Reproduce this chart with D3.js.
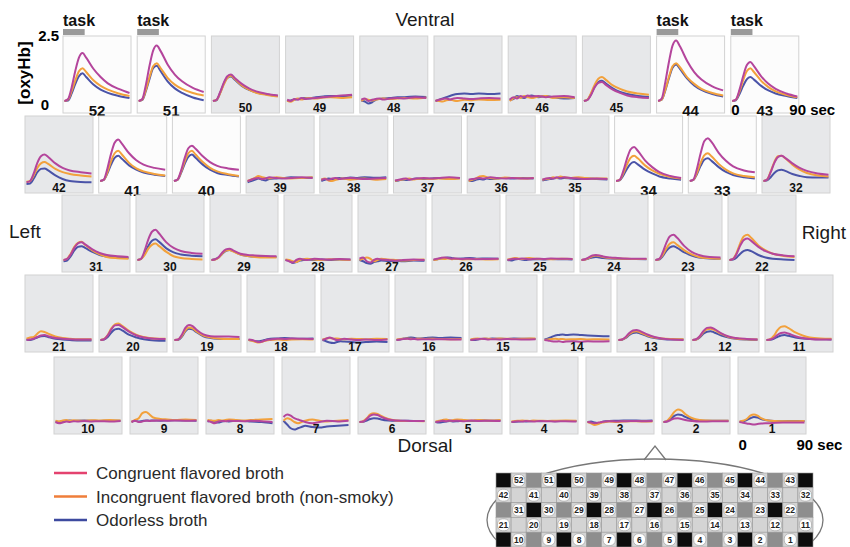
<!DOCTYPE html>
<html>
<head>
<meta charset="utf-8">
<script src="https://cdn.jsdelivr.net/npm/d3@7"></script>
<style>
  body { margin: 0; background: #fff; }
  svg { display: block; font-family: "Liberation Sans", Arial, sans-serif; }
</style>
</head>
<body>
<svg id="chart" width="850" height="547"></svg>
<script>
// Temps (sec) des points lus sur chaque courbe
const times = [0, 5, 10, 15, 20, 25, 30, 40, 50, 60, 75, 90];

// [oxyHb] par canal : index 0 = canal 1 ... index 51 = canal 52
const congruent = [
  [0.0, -0.03, -0.06, -0.08, -0.1, -0.08, -0.06, -0.05, -0.03, -0.02, -0.02, -0.02], // 1
  [0, 0.02, 0.08, 0.14, 0.15, 0.12, 0.08, 0.04, 0.02, 0.02, 0.03, 0.03], // 2
  [0.0, -0.02, -0.05, -0.02, 0.0, 0.02, 0.03, 0.02, 0.03, 0.04, 0.03, 0.04], // 3
  [0.0, 0.02, 0.03, 0.02, 0.04, 0.03, 0.02, 0.04, 0.03, 0.02, 0.03, 0.02], // 4
  [0.0, 0.02, 0.05, 0.03, 0.06, 0.04, 0.05, 0.03, 0.06, 0.04, 0.05, 0.04], // 5
  [0, 0.02, 0.12, 0.25, 0.3, 0.28, 0.2, 0.1, 0.06, 0.05, 0.04, 0.04], // 6
  [0.2, 0.3, 0.25, 0.15, 0.1, 0.05, 0.0, -0.05, 0.0, 0.05, 0.02, 0.05], // 7
  [0.05, 0.0, -0.05, 0.02, 0.04, 0.03, 0.05, 0.04, 0.03, 0.05, 0.03, 0.0], // 8
  [0.0, 0.05, 0.0, 0.02, 0.05, 0.04, 0.05, 0.06, 0.05, 0.06, 0.05, 0.06], // 9
  [0.0, -0.05, -0.02, 0.02, 0.0, 0.03, 0.02, 0.04, 0.02, 0.03, 0.02, 0.04], // 10
  [0, 0.02, 0.08, 0.2, 0.28, 0.3, 0.26, 0.15, 0.08, 0.04, 0.02, 0.02], // 11
  [0, 0.03, 0.15, 0.35, 0.48, 0.5, 0.44, 0.26, 0.14, 0.08, 0.04, 0.02], // 12
  [0, 0.02, 0.12, 0.28, 0.38, 0.4, 0.35, 0.22, 0.12, 0.06, 0.02, 0.0], // 13
  [0.0, -0.02, -0.05, -0.06, -0.05, -0.08, -0.06, -0.05, -0.07, -0.05, -0.06, -0.05], // 14
  [0.0, 0.02, 0.03, 0.05, 0.04, 0.02, 0.03, 0.02, 0.04, 0.03, 0.02, 0.03], // 15
  [0.0, 0.02, 0.04, 0.05, 0.03, 0.04, 0.02, 0.03, 0.02, 0.03, 0.02, 0.02], // 16
  [0.0, 0.05, 0.1, 0.05, 0.0, 0.02, 0.05, 0.02, 0.0, 0.02, 0.0, 0.02], // 17
  [0.02, 0.0, -0.05, -0.08, -0.05, 0.0, 0.02, 0.05, 0.04, 0.06, 0.05, 0.04], // 18
  [0, 0.02, 0.2, 0.48, 0.6, 0.55, 0.42, 0.22, 0.15, 0.14, 0.14, 0.12], // 19
  [0, 0.03, 0.18, 0.42, 0.58, 0.6, 0.52, 0.32, 0.18, 0.1, 0.05, 0.04], // 20
  [0.0, 0.02, 0.05, 0.12, 0.18, 0.2, 0.15, 0.08, 0.05, 0.03, 0.02, 0.02], // 21
  [0, 0.04, 0.25, 0.58, 0.8, 0.85, 0.76, 0.52, 0.35, 0.25, 0.18, 0.15], // 22
  [0, 0.04, 0.3, 0.68, 0.94, 1.0, 0.88, 0.55, 0.32, 0.2, 0.12, 0.1], // 23
  [0.0, 0.03, 0.1, 0.18, 0.2, 0.18, 0.14, 0.1, 0.08, 0.06, 0.05, 0.05], // 24
  [0.0, 0.03, 0.05, 0.04, 0.06, 0.05, 0.03, 0.05, 0.04, 0.06, 0.05, 0.04], // 25
  [0.02, 0.05, 0.08, 0.1, 0.08, 0.05, 0.06, 0.04, 0.05, 0.03, 0.04, 0.05], // 26
  [0.05, 0.1, -0.05, -0.1, 0.0, 0.05, 0.02, 0.0, -0.03, 0.0, 0.02, 0.0], // 27
  [0.0, -0.05, -0.1, 0.0, 0.05, 0.02, 0.0, 0.05, 0.03, 0.02, 0.04, 0.02], // 28
  [0, 0.03, 0.12, 0.3, 0.42, 0.45, 0.38, 0.25, 0.2, 0.18, 0.16, 0.15], // 29
  [0, 0.05, 0.38, 0.82, 1.12, 1.2, 1.05, 0.7, 0.48, 0.36, 0.28, 0.25], // 30
  [0, 0.04, 0.22, 0.48, 0.66, 0.7, 0.62, 0.42, 0.28, 0.2, 0.15, 0.12], // 31
  [0, 0.06, 0.35, 0.72, 0.95, 1.0, 0.92, 0.7, 0.52, 0.4, 0.3, 0.25], // 32
  [0, 0.06, 0.5, 1.1, 1.58, 1.7, 1.55, 1.12, 0.8, 0.58, 0.42, 0.35], // 33
  [0, 0.05, 0.4, 0.88, 1.25, 1.35, 1.2, 0.82, 0.55, 0.35, 0.2, 0.12], // 34
  [0.05, 0.1, 0.12, 0.1, 0.15, 0.12, 0.15, 0.12, 0.1, 0.08, 0.1, 0.08], // 35
  [0.05, 0.08, 0.1, 0.12, 0.1, 0.12, 0.15, 0.12, 0.1, 0.12, 0.1, 0.12], // 36
  [0.02, 0.05, 0.08, 0.1, 0.05, 0.08, 0.1, 0.12, 0.1, 0.12, 0.15, 0.12], // 37
  [0.05, 0.08, 0.05, 0.1, 0.12, 0.08, 0.1, 0.12, 0.1, 0.08, 0.1, 0.12], // 38
  [0.0, 0.05, 0.1, 0.12, 0.08, 0.1, 0.15, 0.12, 0.1, 0.12, 0.15, 0.12], // 39
  [0, 0.06, 0.42, 0.92, 1.3, 1.4, 1.28, 0.98, 0.75, 0.6, 0.5, 0.45], // 40
  [0, 0.06, 0.5, 1.08, 1.52, 1.65, 1.48, 1.1, 0.82, 0.65, 0.52, 0.45], // 41
  [-0.05, 0.0, 0.3, 0.72, 0.98, 1.05, 0.95, 0.7, 0.52, 0.42, 0.35, 0.3], // 42
  [0, 0.06, 0.45, 0.98, 1.42, 1.55, 1.38, 0.98, 0.68, 0.48, 0.3, 0.18], // 43
  [0, 0.1, 0.75, 1.55, 2.2, 2.4, 2.18, 1.6, 1.15, 0.85, 0.58, 0.42], // 44
  [0, 0.05, 0.25, 0.55, 0.72, 0.75, 0.65, 0.45, 0.32, 0.22, 0.15, 0.12], // 45
  [0.05, 0.15, 0.1, 0.2, 0.15, 0.22, 0.18, 0.2, 0.15, 0.18, 0.2, 0.15], // 46
  [0.0, 0.05, 0.08, 0.1, 0.06, 0.1, 0.12, 0.1, 0.08, 0.1, 0.12, 0.1], // 47
  [0.05, 0.1, 0.0, 0.05, 0.08, 0.1, 0.06, 0.1, 0.12, 0.1, 0.15, 0.12], // 48
  [0.05, 0.0, 0.08, 0.05, 0.12, 0.08, 0.1, 0.12, 0.15, 0.18, 0.22, 0.25], // 49
  [0, 0.05, 0.35, 0.72, 0.98, 1.05, 0.92, 0.68, 0.5, 0.38, 0.28, 0.22], // 50
  [0, 0.08, 0.65, 1.4, 2.0, 2.2, 2.0, 1.45, 1.05, 0.78, 0.52, 0.36], // 51
  [0, 0.08, 0.55, 1.2, 1.72, 1.9, 1.72, 1.28, 0.95, 0.7, 0.48, 0.32]  // 52
];

const incongruent = [
  [0.02, 0.05, 0.12, 0.25, 0.3, 0.25, 0.15, 0.06, 0.04, 0.03, 0.03, 0.04], // 1
  [0, 0.05, 0.2, 0.4, 0.5, 0.45, 0.32, 0.15, 0.08, 0.06, 0.05, 0.05], // 2
  [0.0, -0.05, -0.12, -0.08, -0.02, 0.0, 0.02, 0.0, 0.02, 0.03, 0.02, 0.02], // 3
  [0.02, 0.04, 0.05, 0.06, 0.05, 0.04, 0.06, 0.05, 0.04, 0.05, 0.06, 0.05], // 4
  [0.02, 0.05, 0.08, 0.1, 0.06, 0.08, 0.1, 0.08, 0.06, 0.08, 0.06, 0.08], // 5
  [0, 0.03, 0.15, 0.3, 0.35, 0.32, 0.24, 0.12, 0.06, 0.04, 0.04, 0.03], // 6
  [0.05, 0.15, 0.1, 0.0, -0.05, 0.0, 0.05, 0.1, 0.05, 0.02, 0.05, 0.08], // 7
  [0.08, 0.06, 0.05, 0.08, 0.06, 0.08, 0.1, 0.08, 0.06, 0.08, 0.1, 0.12], // 8
  [0.0, 0.08, 0.15, 0.35, 0.4, 0.3, 0.18, 0.12, 0.1, 0.08, 0.1, 0.08], // 9
  [0.05, 0.02, 0.06, 0.08, 0.05, 0.07, 0.06, 0.05, 0.07, 0.06, 0.08, 0.06], // 10
  [0, 0.03, 0.16, 0.38, 0.52, 0.55, 0.48, 0.3, 0.18, 0.1, 0.06, 0.05], // 11
  [0, 0.02, 0.13, 0.32, 0.43, 0.45, 0.4, 0.24, 0.12, 0.06, 0.03, 0.02], // 12
  [0, 0.02, 0.1, 0.24, 0.33, 0.35, 0.3, 0.18, 0.1, 0.06, 0.04, 0.03], // 13
  [0.0, 0.02, 0.04, 0.05, 0.03, 0.04, 0.02, 0.03, 0.04, 0.02, 0.03, 0.02], // 14
  [0.02, 0.05, 0.06, 0.04, 0.06, 0.05, 0.04, 0.06, 0.05, 0.04, 0.05, 0.06], // 15
  [0.02, 0.04, 0.05, 0.06, 0.05, 0.04, 0.05, 0.04, 0.05, 0.04, 0.03, 0.04], // 16
  [0.02, 0.06, 0.08, 0.05, 0.06, 0.04, 0.03, 0.05, 0.04, 0.03, 0.05, 0.04], // 17
  [0.0, -0.03, -0.08, -0.1, -0.06, -0.02, 0.0, 0.02, 0.0, 0.02, 0.03, 0.02], // 18
  [0, 0.02, 0.15, 0.38, 0.5, 0.46, 0.35, 0.18, 0.1, 0.06, 0.04, 0.04], // 19
  [0, 0.04, 0.2, 0.46, 0.62, 0.65, 0.56, 0.35, 0.2, 0.12, 0.06, 0.05], // 20
  [0.05, 0.1, 0.12, 0.25, 0.35, 0.32, 0.25, 0.14, 0.08, 0.05, 0.03, 0.03], // 21
  [0, 0.05, 0.3, 0.68, 0.94, 1.0, 0.88, 0.58, 0.38, 0.25, 0.16, 0.12], // 22
  [0, 0.03, 0.2, 0.46, 0.65, 0.7, 0.6, 0.38, 0.22, 0.12, 0.07, 0.05], // 23
  [0.0, 0.02, 0.08, 0.15, 0.18, 0.16, 0.12, 0.08, 0.06, 0.05, 0.04, 0.04], // 24
  [0.02, 0.05, 0.08, 0.06, 0.04, 0.06, 0.08, 0.05, 0.04, 0.03, 0.05, 0.04], // 25
  [0.0, 0.02, 0.05, 0.04, 0.06, 0.03, 0.05, 0.02, 0.03, 0.04, 0.02, 0.03], // 26
  [0.0, 0.05, 0.1, 0.05, -0.05, 0.0, 0.05, 0.02, 0.0, -0.02, 0.0, 0.02], // 27
  [0.02, 0.0, -0.05, -0.08, 0.0, 0.03, 0.05, 0.02, 0.0, 0.03, 0.02, 0.0], // 28
  [0, 0.02, 0.1, 0.26, 0.38, 0.4, 0.34, 0.22, 0.16, 0.12, 0.1, 0.1], // 29
  [0, 0.04, 0.2, 0.45, 0.6, 0.65, 0.55, 0.32, 0.15, 0.08, 0.04, 0.02], // 30
  [0, 0.05, 0.25, 0.52, 0.68, 0.72, 0.6, 0.38, 0.22, 0.12, 0.07, 0.05], // 31
  [0, 0.06, 0.38, 0.75, 0.98, 1.0, 0.9, 0.65, 0.45, 0.32, 0.22, 0.18], // 32
  [0, 0.05, 0.33, 0.72, 1.02, 1.1, 0.98, 0.68, 0.45, 0.3, 0.2, 0.15], // 33
  [0, 0.04, 0.3, 0.65, 0.92, 1.0, 0.9, 0.62, 0.42, 0.28, 0.16, 0.1], // 34
  [0.05, 0.08, 0.1, 0.15, 0.12, 0.18, 0.15, 0.12, 0.15, 0.12, 0.1, 0.1], // 35
  [0.0, 0.05, 0.1, 0.18, 0.2, 0.15, 0.12, 0.1, 0.14, 0.12, 0.1, 0.12], // 36
  [0.0, 0.04, 0.06, 0.08, 0.1, 0.06, 0.08, 0.1, 0.08, 0.1, 0.08, 0.1], // 37
  [0.05, 0.1, 0.02, 0.0, 0.05, 0.08, 0.1, 0.05, 0.08, 0.1, 0.05, 0.08], // 38
  [0.0, 0.06, 0.12, 0.2, 0.15, 0.12, 0.1, 0.15, 0.12, 0.1, 0.12, 0.15], // 39
  [0, 0.05, 0.36, 0.78, 1.1, 1.2, 1.05, 0.75, 0.52, 0.38, 0.27, 0.2], // 40
  [0, 0.05, 0.35, 0.78, 1.1, 1.2, 1.05, 0.72, 0.5, 0.38, 0.28, 0.22], // 41
  [-0.03, 0.0, 0.22, 0.52, 0.7, 0.75, 0.68, 0.48, 0.35, 0.28, 0.22, 0.18], // 42
  [0, 0.05, 0.38, 0.82, 1.18, 1.3, 1.15, 0.8, 0.55, 0.38, 0.24, 0.15], // 43
  [0, 0.06, 0.45, 0.95, 1.38, 1.5, 1.35, 0.95, 0.68, 0.48, 0.32, 0.22], // 44
  [0, 0.06, 0.32, 0.65, 0.88, 0.95, 0.85, 0.62, 0.48, 0.38, 0.3, 0.25], // 45
  [0.0, 0.1, 0.15, 0.12, 0.2, 0.15, 0.12, 0.18, 0.2, 0.12, 0.15, 0.12], // 46
  [0.02, 0.0, -0.02, 0.03, 0.05, 0.02, 0.0, 0.05, 0.03, 0.06, 0.04, 0.05], // 47
  [0.0, 0.08, 0.05, 0.02, 0.06, 0.08, 0.1, 0.08, 0.1, 0.12, 0.1, 0.14], // 48
  [0.02, -0.03, 0.05, 0.1, 0.06, 0.1, 0.12, 0.1, 0.14, 0.15, 0.12, 0.15], // 49
  [0, 0.04, 0.3, 0.65, 0.92, 1.0, 0.88, 0.62, 0.45, 0.33, 0.24, 0.18], // 50
  [0, 0.06, 0.45, 0.95, 1.38, 1.5, 1.32, 0.92, 0.65, 0.48, 0.32, 0.22], // 51
  [0, 0.06, 0.4, 0.82, 1.18, 1.3, 1.15, 0.82, 0.6, 0.45, 0.3, 0.2]  // 52
];

const odorless = [
  [0.0, 0.03, 0.08, 0.15, 0.2, 0.18, 0.12, 0.06, 0.04, 0.03, 0.04, 0.04], // 1
  [0, 0.03, 0.12, 0.24, 0.3, 0.28, 0.2, 0.1, 0.06, 0.05, 0.05, 0.05], // 2
  [0.0, 0.02, -0.02, -0.05, 0.0, 0.03, 0.04, 0.05, 0.06, 0.06, 0.05, 0.06], // 3
  [0.0, 0.01, 0.02, 0.03, 0.02, 0.03, 0.04, 0.03, 0.04, 0.03, 0.04, 0.04], // 4
  [0.0, -0.02, 0.0, 0.02, 0.04, 0.02, 0.03, 0.05, 0.04, 0.06, 0.05, 0.06], // 5
  [0, 0.01, 0.06, 0.12, 0.15, 0.14, 0.1, 0.06, 0.05, 0.05, 0.04, 0.04], // 6
  [0.05, -0.1, -0.25, -0.3, -0.25, -0.2, -0.15, -0.2, -0.22, -0.18, -0.15, -0.12], // 7
  [0.02, 0.05, 0.0, -0.02, 0.02, 0.04, 0.02, 0.05, 0.04, 0.02, 0.0, -0.05], // 8
  [0.0, 0.05, 0.02, 0.04, 0.06, 0.05, 0.06, 0.05, 0.06, 0.07, 0.06, 0.05], // 9
  [0.02, 0.0, 0.04, 0.05, 0.06, 0.04, 0.05, 0.06, 0.05, 0.04, 0.05, 0.05], // 10
  [0, 0.01, 0.05, 0.12, 0.18, 0.2, 0.17, 0.1, 0.06, 0.04, 0.03, 0.02], // 11
  [0, 0.02, 0.1, 0.25, 0.33, 0.35, 0.3, 0.18, 0.1, 0.05, 0.02, 0.01], // 12
  [0, 0.01, 0.08, 0.2, 0.28, 0.3, 0.26, 0.15, 0.08, 0.04, 0.02, 0.02], // 13
  [0.02, 0.06, 0.12, 0.18, 0.2, 0.22, 0.2, 0.22, 0.2, 0.18, 0.16, 0.15], // 14
  [0.0, 0.0, 0.02, 0.04, 0.05, 0.04, 0.06, 0.05, 0.04, 0.06, 0.05, 0.04], // 15
  [0.0, 0.02, 0.06, 0.08, 0.1, 0.08, 0.06, 0.08, 0.1, 0.08, 0.1, 0.08], // 16
  [0.0, -0.05, -0.1, -0.12, -0.08, -0.05, -0.06, -0.08, -0.1, -0.08, -0.06, -0.08], // 17
  [0.0, -0.02, -0.05, -0.05, -0.02, 0.02, 0.05, 0.06, 0.08, 0.06, 0.05, 0.06], // 18
  [0, 0.0, 0.12, 0.34, 0.45, 0.42, 0.32, 0.15, 0.08, 0.05, 0.04, 0.04], // 19
  [0, 0.02, 0.12, 0.3, 0.42, 0.45, 0.38, 0.2, 0.1, 0.03, -0.02, -0.03], // 20
  [0.02, 0.0, 0.04, 0.1, 0.15, 0.16, 0.12, 0.05, 0.02, 0.0, -0.02, -0.02], // 21
  [0, 0.02, 0.1, 0.25, 0.36, 0.4, 0.35, 0.2, 0.1, 0.05, 0.02, 0.0], // 22
  [0, 0.02, 0.15, 0.36, 0.5, 0.55, 0.48, 0.3, 0.18, 0.1, 0.06, 0.05], // 23
  [0.0, 0.02, 0.06, 0.1, 0.12, 0.1, 0.08, 0.06, 0.05, 0.04, 0.04, 0.03], // 24
  [0.0, -0.02, 0.02, 0.04, 0.02, 0.0, 0.02, 0.03, 0.02, 0.04, 0.03, 0.02], // 25
  [0.0, 0.03, 0.06, 0.08, 0.1, 0.08, 0.05, 0.06, 0.08, 0.05, 0.06, 0.05], // 26
  [0.0, -0.05, -0.12, -0.15, -0.08, -0.05, -0.02, -0.05, -0.03, -0.05, -0.02, -0.03], // 27
  [0.0, -0.03, -0.12, -0.08, -0.02, 0.0, 0.02, 0.0, 0.02, 0.0, 0.02, 0.01], // 28
  [0, 0.03, 0.1, 0.25, 0.36, 0.4, 0.35, 0.22, 0.16, 0.14, 0.14, 0.12], // 29
  [0, 0.04, 0.26, 0.56, 0.76, 0.82, 0.72, 0.46, 0.3, 0.22, 0.17, 0.15], // 30
  [-0.05, -0.02, 0.15, 0.38, 0.52, 0.55, 0.48, 0.32, 0.2, 0.14, 0.1, 0.08], // 31
  [0, 0.03, 0.15, 0.32, 0.42, 0.45, 0.4, 0.28, 0.2, 0.15, 0.14, 0.14], // 32
  [0, 0.04, 0.28, 0.6, 0.84, 0.9, 0.8, 0.55, 0.36, 0.24, 0.15, 0.1], // 33
  [0, 0.03, 0.22, 0.48, 0.68, 0.75, 0.66, 0.45, 0.3, 0.18, 0.1, 0.05], // 34
  [0.02, 0.05, 0.08, 0.1, 0.12, 0.1, 0.12, 0.1, 0.08, 0.1, 0.08, 0.06], // 35
  [0.02, 0.0, 0.05, 0.08, 0.06, 0.1, 0.08, 0.1, 0.12, 0.1, 0.12, 0.1], // 36
  [0.0, 0.02, 0.05, 0.04, 0.06, 0.08, 0.1, 0.08, 0.1, 0.12, 0.1, 0.12], // 37
  [0.0, 0.05, 0.1, 0.08, 0.1, 0.12, 0.1, 0.14, 0.12, 0.15, 0.13, 0.15], // 38
  [-0.05, 0.0, 0.05, 0.1, 0.05, 0.02, 0.08, 0.1, 0.12, 0.15, 0.12, 0.14], // 39
  [0, 0.04, 0.32, 0.68, 0.96, 1.05, 0.92, 0.65, 0.45, 0.32, 0.24, 0.18], // 40
  [0, 0.04, 0.3, 0.65, 0.92, 1.0, 0.88, 0.62, 0.45, 0.34, 0.25, 0.2], // 41
  [-0.12, -0.1, 0.1, 0.35, 0.48, 0.5, 0.42, 0.22, 0.08, 0.0, -0.04, -0.05], // 42
  [0, 0.03, 0.28, 0.6, 0.86, 0.95, 0.85, 0.6, 0.42, 0.3, 0.2, 0.12], // 43
  [0, 0.05, 0.42, 0.9, 1.32, 1.45, 1.28, 0.9, 0.62, 0.44, 0.28, 0.18], // 44
  [0, 0.04, 0.28, 0.58, 0.75, 0.8, 0.7, 0.5, 0.36, 0.28, 0.2, 0.16], // 45
  [0.05, 0.08, 0.2, 0.15, 0.12, 0.18, 0.22, 0.15, 0.2, 0.15, 0.1, 0.12], // 46
  [0.0, 0.05, 0.1, 0.15, 0.2, 0.25, 0.28, 0.3, 0.28, 0.3, 0.28, 0.3], // 47
  [0.02, -0.02, -0.1, -0.05, 0.05, 0.08, 0.1, 0.12, 0.15, 0.15, 0.18, 0.16], // 48
  [0.0, 0.02, 0.06, 0.08, 0.1, 0.12, 0.1, 0.15, 0.18, 0.2, 0.2, 0.22], // 49
  [0, 0.03, 0.32, 0.68, 0.92, 0.97, 0.85, 0.6, 0.44, 0.34, 0.26, 0.2], // 50
  [0, 0.04, 0.4, 0.88, 1.3, 1.4, 1.2, 0.78, 0.5, 0.32, 0.14, 0.03], // 51
  [0, 0.02, 0.3, 0.68, 0.98, 1.1, 0.95, 0.65, 0.45, 0.32, 0.2, 0.12]  // 52
];

// Disposition des canaux (ventral en haut, gauche à gauche)
const panelRows = [
  [52, 51, 50, 49, 48, 47, 46, 45, 44, 43],
  [42, 41, 40, 39, 38, 37, 36, 35, 34, 33, 32],
  [31, 30, 29, 28, 27, 26, 25, 24, 23, 22],
  [21, 20, 19, 18, 17, 16, 15, 14, 13, 12, 11],
  [10, 9, 8, 7, 6, 5, 4, 3, 2, 1]
];
const highlighted = [52, 51, 44, 43, 41, 40, 34, 33];
const taskPanels = [52, 51, 44, 43];
const taskWindow = [0, 30];
const timeDomain = [0, 90];
const yTicks = [0, 2.5];
const seriesNames = ["Congruent flavored broth", "Incongruent flavored broth (non-smoky)", "Odorless broth"];

// Style / mise en page
const plotColors = ["#b4459c", "#f2a13c", "#4a53a8"];
const legendColors = ["#e4426f", "#ef7e3a", "#3d4a9f"];
const rowLayout = [
  {top: 36, x0: 63, step: 74.2},
  {top: 116, x0: 25, step: 73.7},
  {top: 195, x0: 62, step: 74},
  {top: 275, x0: 25, step: 74},
  {top: 357, x0: 54, step: 76}
];
const PW = 68, PH = 77;

const svg = d3.select("#chart");
const allSeries = [congruent, incongruent, odorless];

const line = d3.line().curve(d3.curveMonotoneX);

const panelInfo = {};

rowLayout.forEach((row, r) => {
  const chans = panelRows[r];
  const xPos = d3.scaleLinear().domain([0, chans.length - 1]).range([row.x0, row.x0 + (chans.length - 1) * row.step]);

  chans.forEach((ch, i) => {
    const left = xPos(i);
    const top = row.top;
    const isHi = highlighted.includes(ch);
    const x = d3.scaleLinear().domain(timeDomain).range([left + 1.5, left + PW - 1.5]);
    const y = d3.scaleLinear().domain([0, 2.5]).range([top + 65, top + 2]);
    panelInfo[ch] = {left, top, x, y};

    const g = svg.append("g");
    g.append("rect")
      .attr("x", left).attr("y", top)
      .attr("width", PW).attr("height", PH)
      .attr("fill", isHi ? "#fcfcfc" : "#e7e8ea")
      .attr("stroke", "#d2d2d2")
      .attr("stroke-width", 1);

    // ordre : bleu, orange, magenta (magenta au-dessus)
    [2, 1, 0].forEach(s => {
      const vals = allSeries[s][ch - 1];
      g.append("path")
        .attr("d", line(times.map((t, k) => [x(t), y(vals[k])])))
        .attr("fill", "none")
        .attr("stroke", plotColors[s])
        .attr("stroke-width", 2)
        .attr("stroke-linejoin", "round");
    });

    g.append("text")
      .attr("x", left + PW / 2)
      .attr("y", top + (isHi ? 80 : 76))
      .attr("text-anchor", "middle")
      .attr("font-weight", "bold")
      .attr("font-size", isHi ? 15 : 12)
      .attr("fill", "#111")
      .text(ch);
  });
});

// barres "task"
taskPanels.forEach(ch => {
  const p = panelInfo[ch];
  svg.append("rect")
    .attr("x", p.x(taskWindow[0]) - 1.5).attr("y", p.top - 7)
    .attr("width", p.x(taskWindow[1]) - p.x(taskWindow[0]))
    .attr("height", 6)
    .attr("fill", "#9a9a9a");
  svg.append("text")
    .attr("x", p.left).attr("y", p.top - 10)
    .attr("font-weight", "bold").attr("font-size", 16)
    .attr("fill", "#111")
    .text("task");
});

// axe y (panneau 52 uniquement)
const p52 = panelInfo[52];
svg.append("text")
  .attr("x", 59).attr("y", p52.y(yTicks[1]) + 3)
  .attr("text-anchor", "end")
  .attr("font-weight", "bold").attr("font-size", 15)
  .text(yTicks[1]);
svg.append("text")
  .attr("x", 45).attr("y", p52.y(yTicks[0]) + 9)
  .attr("text-anchor", "middle")
  .attr("font-weight", "bold").attr("font-size", 15)
  .text(yTicks[0]);
svg.append("text")
  .attr("transform", "translate(30,73) rotate(-90)")
  .attr("text-anchor", "middle")
  .attr("font-weight", "bold").attr("font-size", 17)
  .text("[oxyHb]");

// échelle temps (0 / 90 sec)
[[43, 115], [1, 450]].forEach(([ch, yy]) => {
  const p = panelInfo[ch];
  svg.append("text")
    .attr("x", p.x(timeDomain[0]) - 1).attr("y", yy)
    .attr("font-weight", "bold").attr("font-size", 15)
    .text(timeDomain[0]);
  svg.append("text")
    .attr("x", p.x(timeDomain[1]) - 8).attr("y", yy)
    .attr("font-weight", "bold").attr("font-size", 15)
    .text(timeDomain[1] + " sec");
});

// orientation
const orient = [
  {t: "Ventral", x: 425, y: 26, a: "middle"},
  {t: "Dorsal", x: 425, y: 452, a: "middle"},
  {t: "Left", x: 9, y: 238, a: "start"},
  {t: "Right", x: 846, y: 239, a: "end"}
];
orient.forEach(o => {
  svg.append("text")
    .attr("x", o.x).attr("y", o.y)
    .attr("text-anchor", o.a)
    .attr("font-size", 19)
    .attr("fill", "#1a1a1a")
    .text(o.t);
});

// légende
const legY = d3.scalePoint().domain(seriesNames).range([473, 520]);
seriesNames.forEach((name, i) => {
  svg.append("line")
    .attr("x1", 54).attr("x2", 87)
    .attr("y1", legY(name)).attr("y2", legY(name))
    .attr("stroke", legendColors[i]).attr("stroke-width", 2.5);
  svg.append("text")
    .attr("x", 96).attr("y", legY(name) + 6)
    .attr("font-size", 17)
    .attr("fill", "#2a2a2a")
    .text(name);
});

// schéma de la sonde 3x11
const gx = d3.scaleLinear().domain([0, 21]).range([496, 813]);
const gy = d3.scaleLinear().domain([0, 5]).range([473, 547]);
const head = svg.append("g");
head.append("ellipse")
  .attr("cx", 655).attr("cy", 520).attr("rx", 168).attr("ry", 61)
  .attr("fill", "none").attr("stroke", "#777").attr("stroke-width", 1.3);
head.append("path")
  .attr("d", d3.line()([[644, 460], [655, 446], [666, 460]]))
  .attr("fill", "none").attr("stroke", "#777").attr("stroke-width", 1.3);

for (let r = 0; r < 5; r++) {
  for (let c = 0; c < 21; c++) {
    let kind, label = null;
    if (r % 2 === 0) {
      if (c % 2 === 0) kind = ((c / 2 + r / 2) % 2 === 0) ? "S" : "D";
      else { kind = "C"; label = panelRows[r][(c - 1) / 2]; }
    } else {
      if (c % 2 === 0) { kind = "C"; label = panelRows[r][c / 2]; }
      else kind = "E";
    }
    const fill = {S: "#0d0d0d", D: "#8e8e8e", C: "#d4d4d4", E: "#d4d4d4"}[kind];
    const cw = gx(c + 1) - gx(c), chh = gy(r + 1) - gy(r);
    head.append("rect")
      .attr("x", gx(c)).attr("y", gy(r))
      .attr("width", cw).attr("height", chh)
      .attr("fill", fill).attr("stroke", "#999").attr("stroke-width", 0.6);
    if (label !== null) {
      head.append("rect")
        .attr("x", gx(c) + 1.5).attr("y", gy(r) + 1.5)
        .attr("width", cw - 3).attr("height", chh - 3)
        .attr("rx", 5).attr("fill", "#fff").attr("stroke", "#888").attr("stroke-width", 0.5);
      head.append("text")
        .attr("x", gx(c) + cw / 2).attr("y", gy(r) + chh / 2 + 3)
        .attr("text-anchor", "middle")
        .attr("font-size", 8.5).attr("font-weight", "bold")
        .attr("fill", "#222")
        .text(label);
    }
  }
}
</script>
</body>
</html>
